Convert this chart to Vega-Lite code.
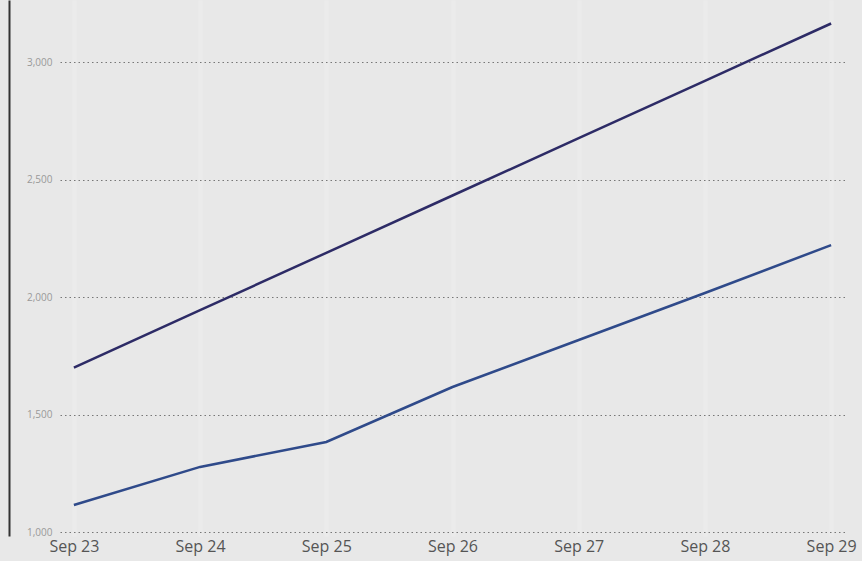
{
  "$schema": "https://vega.github.io/schema/vega-lite/v6.json",
  "width": 785,
  "height": 536,
  "autosize": {"type": "none"},
  "padding": {"left": 60, "top": 0, "right": 17, "bottom": 25},
  "background": "#e8e8e8",
  "config": {"view": {"stroke": null}},
  "data": {"values": [
    {"date": "Sep 23", "series": "A", "value": 1700},
    {"date": "Sep 24", "series": "A", "value": 1944},
    {"date": "Sep 25", "series": "A", "value": 2188},
    {"date": "Sep 26", "series": "A", "value": 2432},
    {"date": "Sep 27", "series": "A", "value": 2676},
    {"date": "Sep 28", "series": "A", "value": 2920},
    {"date": "Sep 29", "series": "A", "value": 3164},
    {"date": "Sep 23", "series": "B", "value": 1115},
    {"date": "Sep 24", "series": "B", "value": 1277},
    {"date": "Sep 25", "series": "B", "value": 1383},
    {"date": "Sep 26", "series": "B", "value": 1617},
    {"date": "Sep 27", "series": "B", "value": 1817},
    {"date": "Sep 28", "series": "B", "value": 2017},
    {"date": "Sep 29", "series": "B", "value": 2221}
  ]},
  "mark": {"type": "line", "strokeWidth": 2.5},
  "encoding": {
    "x": {
      "field": "date", "type": "ordinal", "sort": null,
      "scale": {"type": "point", "padding": 0.11},
      "axis": {
        "title": null, "labelAngle": 0, "domain": false, "ticks": false,
        "labelFont": "Open Sans", "labelFontSize": 16, "labelColor": "#555555",
        "labelPadding": 2,
        "grid": true, "gridColor": "#ebebeb", "gridWidth": 4
      }
    },
    "y": {
      "field": "value", "type": "quantitative",
      "scale": {"domain": [983, 3264], "nice": false, "zero": false},
      "axis": {
        "title": null, "values": [1000, 1500, 2000, 2500, 3000],
        "format": ",.0f", "ticks": false,
        "offset": 51, "domain": true, "domainColor": "#333333", "domainWidth": 2,
        "labelPadding": -43, "labelAlign": "right",
        "labelFont": "Open Sans", "labelFontSize": 10, "labelColor": "#999999",
        "grid": true, "gridColor": "#777777", "gridDash": [1.5, 3], "gridWidth": 1
      }
    },
    "color": {
      "field": "series", "type": "nominal",
      "scale": {"domain": ["A", "B"], "range": ["#2d2b66", "#2f4a8a"]},
      "legend": null
    }
  }
}
